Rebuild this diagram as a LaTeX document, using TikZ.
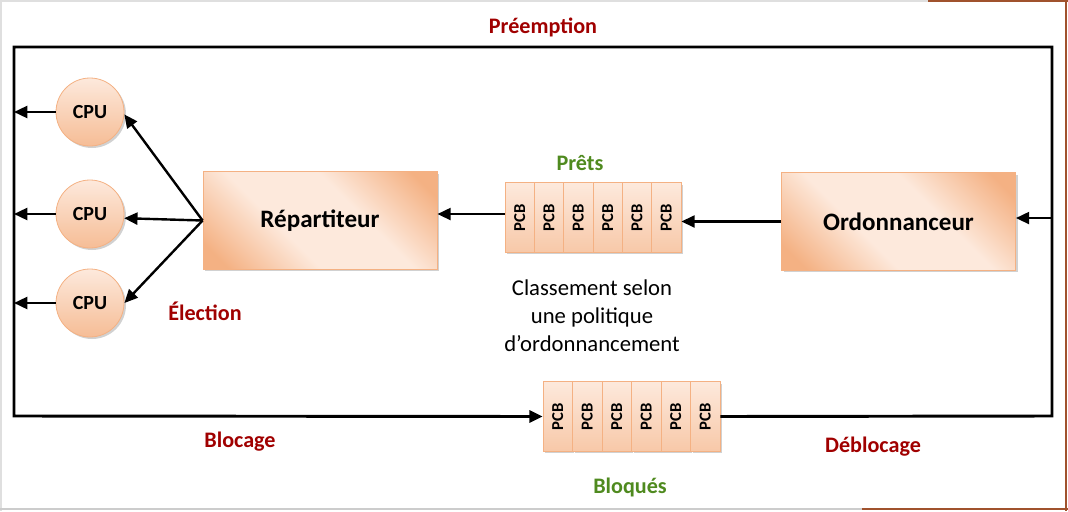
\documentclass[tikz,border=0pt]{standalone}
\usepackage{fontspec}
\usepackage{graphicx}
\setmainfont{Carlito}
\usetikzlibrary{shadows,arrows.meta}
\definecolor{boxlight}{HTML}{FDE9DC}
\definecolor{boxdark}{HTML}{F4B183}
\definecolor{boxline}{HTML}{F4B183}
\definecolor{labred}{HTML}{A00000}
\definecolor{labgreen}{HTML}{4F8A1F}
\definecolor{winbrown}{HTML}{A0522D}
\pgfdeclarehorizontalshading{boxshade}{100bp}{color(0bp)=(boxdark); color(20bp)=(boxdark); color(40bp)=(boxlight); color(60bp)=(boxlight); color(80bp)=(boxdark); color(100bp)=(boxdark)}
\begin{document}
\begin{tikzpicture}[x=0.75pt,y=-0.75pt,
  shad/.style={drop shadow={shadow xshift=1.5pt,shadow yshift=-1.5pt,opacity=0.3,fill=black!60}},
  bigbox/.style={draw=boxline,line width=0.6pt,shading=boxshade,shading angle=45,
    minimum width=175.5pt,minimum height=73pt,font=\fontsize{18.8}{22}\selectfont\bfseries,shad},
  cpu/.style={circle,draw=boxline,line width=0.6pt,top color=boxlight,bottom color=boxdark!85,minimum size=51pt,inner sep=0pt,
    font=\fontsize{15}{16}\selectfont\bfseries,shad},
  pcb/.style={draw=boxline,line width=0.6pt,top color=boxlight,bottom color=boxdark!70,minimum width=22pt,minimum height=52pt,
    inner sep=0pt,font=\fontsize{12.5}{13}\selectfont\bfseries,shad},
  arr/.style={line width=1.8pt,-{Triangle[length=10pt,width=9pt]}},
  loopline/.style={line width=2.2pt},
  redlab/.style={text=labred,font=\fontsize{16.6}{20}\selectfont\bfseries},
  greenlab/.style={text=labgreen,font=\fontsize{16.6}{20}\selectfont\bfseries},
  plain/.style={font=\fontsize{17}{21}\selectfont,align=center}
]
\useasboundingbox (0,0) rectangle (1068,511);
% window edges
\draw[gray!25,line width=1.5pt] (0,1) -- (928,1);
\draw[winbrown,line width=1.5pt] (928,1) -- (1068,1);
\draw[gray!25,line width=2pt] (1,0) -- (1,511);
\draw[gray!40,line width=1.5pt] (0,509) -- (862,509);
\draw[winbrown,line width=1.5pt] (862,509) -- (1068,509);
\draw[winbrown,line width=1.5pt] (1065.5,0) -- (1065.5,511);

% loop corners
\coordinate (tl) at (14,47);
\coordinate (tr) at (1052,47);
\coordinate (br) at (1052,416);
\coordinate (bl) at (14,416);

% nodes
\node[cpu] (c1) at (90,112) {CPU};
\node[cpu] (c2) at (90,214) {CPU};
\node[cpu] (c3) at (90,303) {CPU};
\node[bigbox] (rep) at (320,220.5) {Répartiteur};
\node[bigbox] (ord) at (898.5,221.5) {Ordonnanceur};
\foreach \i in {1,...,6}{
  \node[pcb] (p\i) at ({505+14.67+29.33*(\i-1)},217.5) {\rotatebox{90}{PCB}};
  \node[pcb] (b\i) at ({543+14.75+29.5*(\i-1)},416.5) {\rotatebox{90}{PCB}};
}

% labels
\node[redlab] (preempt) at (543,27) {Préemption};
\node[redlab] (elect) at (205,311) {Élection};
\node[redlab] (bloc) at (240,442) {Blocage};
\node[redlab] (debloc) at (873,447) {Déblocage};
\node[greenlab] (prets) at (580,163) {Prêts};
\node[greenlab] (bloques) at (630,487) {Bloqués};
\node[plain] (classement) at (592,316) {Classement selon\\une politique\\d’ordonnancement};

% loop
\draw[loopline,line join=miter,-{Triangle[length=10pt,width=9pt]}]
  (b6.east) -- (br) -- (tr) -- (tl) -- (bl) -- (b1.west);

% arrows
\draw[arr] ([yshift=2.6pt]ord.east -| tr) -- ([yshift=2.6pt]ord.east);
\draw[arr] (ord.west) -- (ord.west -| p6.east);
\draw[arr] ([yshift=2.6pt]p1.west) -- ([yshift=2.6pt]p1.west -| rep.east);
\draw[arr] (rep.west) -- (c1.-4);
\draw[arr] (rep.west) -- (c2.-7);
\draw[arr] (rep.west) -- (c3.east);
\draw[arr] (c1.west) -- (c1.west -| tl);
\draw[arr] (c2.west) -- (c2.west -| tl);
\draw[arr] (c3.west) -- (c3.west -| tl);
\end{tikzpicture}
\end{document}
